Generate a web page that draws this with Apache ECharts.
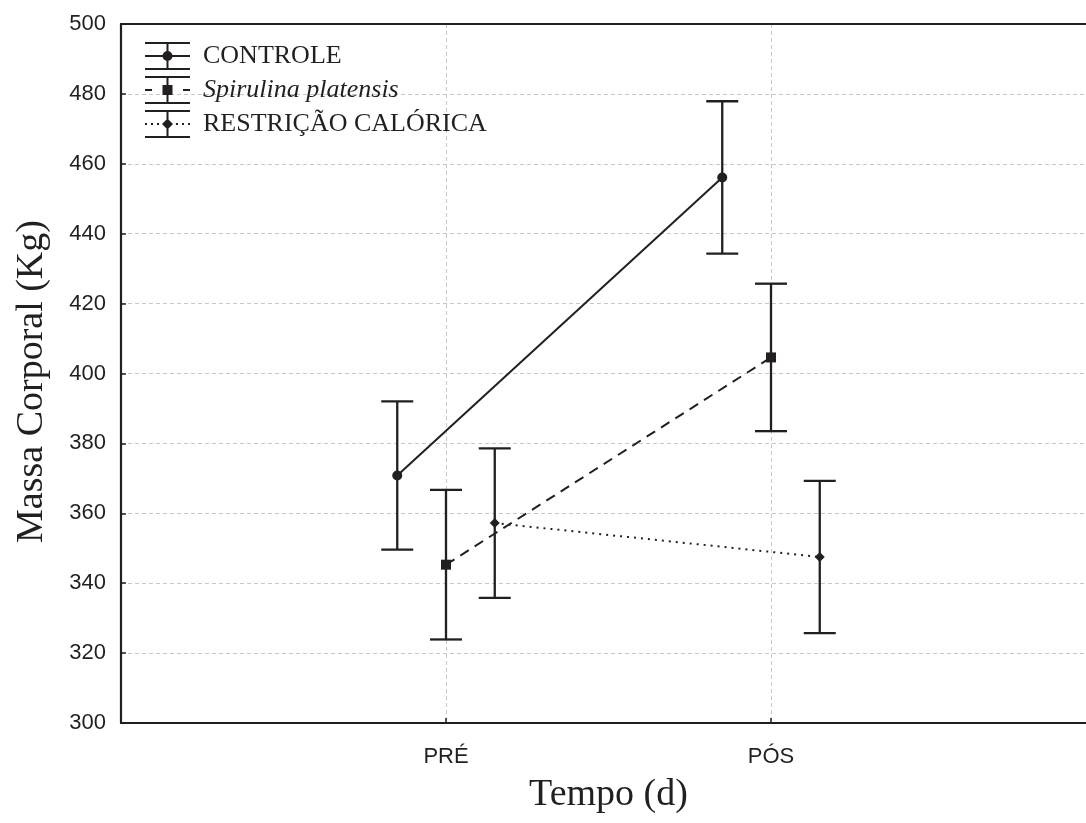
<!DOCTYPE html>
<html>
<head>
<meta charset="utf-8">
<script src="https://cdn.jsdelivr.net/npm/echarts@6/dist/echarts.min.js"></script>
<style>
  html, body { margin: 0; padding: 0; background: #fff; }
  #chart { width: 1086px; height: 823px; }
</style>
</head>
<body>
<div id="chart"></div>
<script>
// ---- data ----
const categories = ['PRÉ', 'PÓS'];
const groupNames = ['CONTROLE', 'Spirulina platensis', 'RESTRIÇÃO CALÓRICA'];
const groupOffsets = [-0.15, 0, 0.15];          // horizontal dodge of each group (category units)
const controleMean = [370.8, 456.1];
const controleErr = [21.2, 21.8];
const spirulinaMean = [345.3, 404.6];
const spirulinaErr = [21.4, 21.1];
const restricaoMean = [357.2, 347.5];
const restricaoErr = [21.4, 21.8];
const yMin = 300, yMax = 500, yStep = 20;

const means = [controleMean, spirulinaMean, restricaoMean];
const errs = [controleErr, spirulinaErr, restricaoErr];

const INK = '#231f20';

// ---- legend icons (error bar glyph + line style + marker) ----
function rect(x, y, w, h) { return `M${x} ${y}h${w}v${h}h${-w}Z`; }
function circle(cx, cy, r) { return `M${cx - r} ${cy}A${r} ${r} 0 1 1 ${cx + r} ${cy}A${r} ${r} 0 1 1 ${cx - r} ${cy}Z`; }
function diamond(cx, cy, r) { return `M${cx} ${cy - r}L${cx + r} ${cy}L${cx} ${cy + r}L${cx - r} ${cy}Z`; }
const IW = 45, IH = 28;
const errGlyph = rect(0, 0, IW, 2) + rect(0, IH - 2, IW, 2) + rect(21.5, 0, 2, IH);
const icons = [
  'path://' + errGlyph + rect(0, 13, IW, 2) + circle(22.5, 14, 5),
  'path://' + errGlyph + rect(0, 13, 7, 2) + rect(38, 13, 7, 2) + rect(17.5, 9, 10, 10),
  'path://' + errGlyph + rect(0, 13, 2, 2) + rect(6, 13, 2, 2) + rect(12, 13, 2, 2) +
    rect(31, 13, 2, 2) + rect(37, 13, 2, 2) + rect(43, 13, 2, 2) + diamond(22.5, 14, 5.5)
];

const symbols = ['circle', 'rect', 'diamond'];
const symbolSizes = [10, 10, 10];
const lineTypes = ['solid', [10, 7], [2, 5]];

const series = [];
groupNames.forEach((name, g) => {
  // error bars
  series.push({
    name: name + ' (erro)',
    type: 'custom',
    silent: true,
    z: 2,
    encode: { x: 0, y: [1, 2] },
    data: categories.map((c, i) => [i + 1 + groupOffsets[g], means[g][i] - errs[g][i], means[g][i] + errs[g][i]]),
    renderItem: function (params, api) {
      const x = api.value(0);
      const pLo = api.coord([x, api.value(1)]);
      const pHi = api.coord([x, api.value(2)]);
      const half = 16;
      const style = { stroke: INK, lineWidth: 2.3, fill: null };
      return {
        type: 'group',
        children: [
          { type: 'line', shape: { x1: pHi[0], y1: pHi[1], x2: pLo[0], y2: pLo[1] }, style: style },
          { type: 'line', shape: { x1: pHi[0] - half, y1: pHi[1], x2: pHi[0] + half, y2: pHi[1] }, style: style },
          { type: 'line', shape: { x1: pLo[0] - half, y1: pLo[1], x2: pLo[0] + half, y2: pLo[1] }, style: style }
        ]
      };
    }
  });
  // mean line
  series.push({
    name: name,
    type: 'line',
    z: 3,
    data: categories.map((c, i) => [i + 1 + groupOffsets[g], means[g][i]]),
    symbol: symbols[g],
    symbolSize: symbolSizes[g],
    showSymbol: true,
    itemStyle: { color: INK },
    lineStyle: { color: INK, width: 2, type: lineTypes[g] },
    animation: false
  });
});

const gridLine = { show: true, lineStyle: { color: '#c8c8c8', type: [4, 3], width: 1 } };

const chart = echarts.init(document.getElementById('chart'), null, { renderer: 'canvas' });
chart.setOption({
  animation: false,
  backgroundColor: '#ffffff',
  grid: {
    left: 121, top: 24, right: -10, bottom: 100,
    show: false,
    outerBoundsMode: 'none', containLabel: false
  },
  legend: {
    left: 145, top: 42, padding: 0,
    orient: 'vertical',
    itemWidth: IW, itemHeight: IH, itemGap: 6,
    selectedMode: false,
    textStyle: { fontFamily: 'Liberation Serif', fontSize: 26, color: INK, padding: [0, 0, 0, 8] },
    data: groupNames.map((n, g) => ({
      name: n,
      icon: icons[g],
      itemStyle: { color: INK, borderWidth: 0 },
      textStyle: g === 1 ? { fontStyle: 'italic' } : {}
    }))
  },
  xAxis: [{
    type: 'value',
    min: 0, max: 3, interval: 1,
    name: 'Tempo (d)',
    nameLocation: 'middle',
    nameGap: 53,
    nameTextStyle: { fontFamily: 'Liberation Serif', fontSize: 38, color: INK },
    axisLine: { show: true, lineStyle: { color: INK, width: 2.2 } },
    axisTick: { show: true, inside: true, length: 5, lineStyle: { color: INK, width: 1.5 } },
    axisLabel: {
      margin: 23,
      fontFamily: 'Liberation Sans', fontSize: 22, color: INK,
      formatter: function (v) { return categories[Math.round(v) - 1] !== undefined && v > 0 ? categories[Math.round(v) - 1] : ''; }
    },
    splitLine: Object.assign({ showMinLine: false, showMaxLine: false }, gridLine)
  }, {
    type: 'value',
    position: 'top',
    min: 0, max: 3, interval: 1,
    axisLine: { show: true, lineStyle: { color: INK, width: 2.2 } },
    axisTick: { show: false },
    axisLabel: { show: false },
    splitLine: { show: false }
  }],
  yAxis: {
    type: 'value',
    min: yMin, max: yMax, interval: yStep,
    name: 'Massa Corporal (Kg)',
    nameLocation: 'middle',
    nameGap: 70,
    nameTextStyle: { fontFamily: 'Liberation Serif', fontSize: 38, color: INK, padding: [0, 16, 0, 0] },
    axisLine: { show: true, lineStyle: { color: INK, width: 2.2 } },
    axisTick: { show: true, inside: true, length: 5, lineStyle: { color: INK, width: 1.5 } },
    axisLabel: { margin: 15, fontFamily: 'Liberation Sans', fontSize: 22, color: INK },
    splitLine: Object.assign({ showMinLine: false, showMaxLine: false }, gridLine)
  },
  series: series
});
</script>
</body>
</html>
